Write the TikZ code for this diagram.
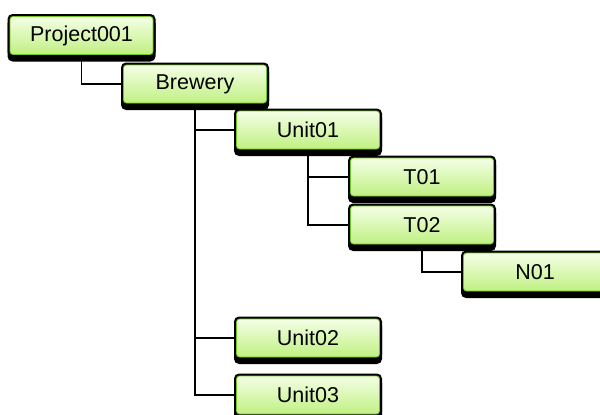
\documentclass[tikz,border=0pt]{standalone}
\usepackage{fontspec}
\setmainfont{Liberation Sans}
\definecolor{boxtop}{RGB}{244,255,230}
\definecolor{boxbottom}{RGB}{192,240,130}
\definecolor{boxrim}{RGB}{112,196,36}
\tikzset{
  treebox/.style={
    rectangle, rounded corners=3pt,
    minimum width=143pt, minimum height=38pt, inner sep=0pt,
    font=\fontsize{21.5}{25}\selectfont, text=black,
    top color=boxtop, bottom color=boxbottom,
    draw=boxrim, line width=0.8pt,
    preaction={draw=black, fill=black, line width=5pt,
               transform canvas={yshift=-4.5pt}},
    preaction={draw=black, fill=black, line width=5pt}
  },
  link/.style={draw=black, line width=1.1pt}
}
\begin{document}
\begin{tikzpicture}[x=1pt, y=-1pt]
  \useasboundingbox (0,0) rectangle (600,415);
  \clip (0,0) rectangle (600,415);

  % node positions (centres)
  \coordinate (cP)  at (81.5,35.5);
  \coordinate (cB)  at (195,84);
  \coordinate (cU1) at (308,130);
  \coordinate (cT1) at (422,177);
  \coordinate (cT2) at (422,225);
  \coordinate (cN1) at (535,272);
  \coordinate (cU2) at (308,338);
  \coordinate (cU3) at (308,395);

  % invisible placeholders so the links can be drawn below the boxes
  \foreach \n in {P,B,U1,T1,T2,N1,U2,U3}
    \node[rectangle, minimum width=143pt, minimum height=38pt, inner sep=0pt] (\n) at (c\n) {};

  % tree links
  \draw[link] (P.south)  |- (B.west);
  \draw[link] (B.south)  |- (U1.west);
  \draw[link] (B.south)  |- (U2.west);
  \draw[link] (B.south)  |- (U3.west);
  \draw[link] (U1.south) |- (T1.west);
  \draw[link] (U1.south) |- (T2.west);
  \draw[link] (T2.south) |- (N1.west);

  % boxes
  \node[treebox] (project) at (cP)  {Project001};
  \node[treebox] (brewery) at (cB)  {Brewery};
  \node[treebox] (unit1)   at (cU1) {Unit01};
  \node[treebox] (t1)      at (cT1) {T01};
  \node[treebox] (t2)      at (cT2) {T02};
  \node[treebox] (n1)      at (cN1) {N01};
  \node[treebox] (unit2)   at (cU2) {Unit02};
  \node[treebox] (unit3)   at (cU3) {Unit03};
\end{tikzpicture}
\end{document}
